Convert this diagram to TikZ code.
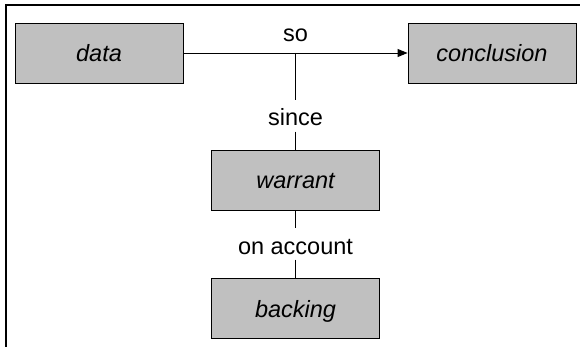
\documentclass[tikz,border=0pt]{standalone}
\usepackage{fontspec}
\setmainfont{Liberation Sans}
\usetikzlibrary{arrows.meta}
\begin{document}
\begin{tikzpicture}[x=1pt,y=-1pt,
  box/.style={draw=black,line width=0.9pt,fill=boxgray,minimum width=168pt,minimum height=60pt,inner sep=0pt,
    font=\fontsize{23.5}{28}\selectfont\itshape,text height=18pt,text depth=0pt},
  lab/.style={inner sep=0pt,font=\fontsize{23.5}{28}\selectfont,text height=25.5pt,text depth=5.5pt},
  conn/.style={line width=0.9pt}]
\definecolor{boxgray}{HTML}{C0C0C0}
\useasboundingbox (0,0) rectangle (580,347);
\draw[line width=1.6pt] (6,347) -- (6,5) -- (581,5);
\node[box] (data) at (99,53) {data};
\node[box] (concl) at (492,53) {conclusion};
\node[box] (warrant) at (295.5,180) {warrant};
\node[box] (backing) at (295.5,308.5) {backing};
\node[lab] (since) at (295.5,116) {since};
\node[lab] (onacc) at (295.5,244) {on account};
\node[inner sep=0pt,anchor=base,font=\fontsize{23.5}{28}\selectfont] (so) at (295.5,42) {so};
\coordinate (j) at (295.5,53);
\draw[conn,-{Triangle[length=10pt,width=8pt]}] (data) -- (concl);
\draw[conn] (j) -- (since);
\draw[conn] (since) -- (warrant);
\draw[conn] (warrant) -- (onacc);
\draw[conn] (onacc) -- (backing);
\end{tikzpicture}
\end{document}
